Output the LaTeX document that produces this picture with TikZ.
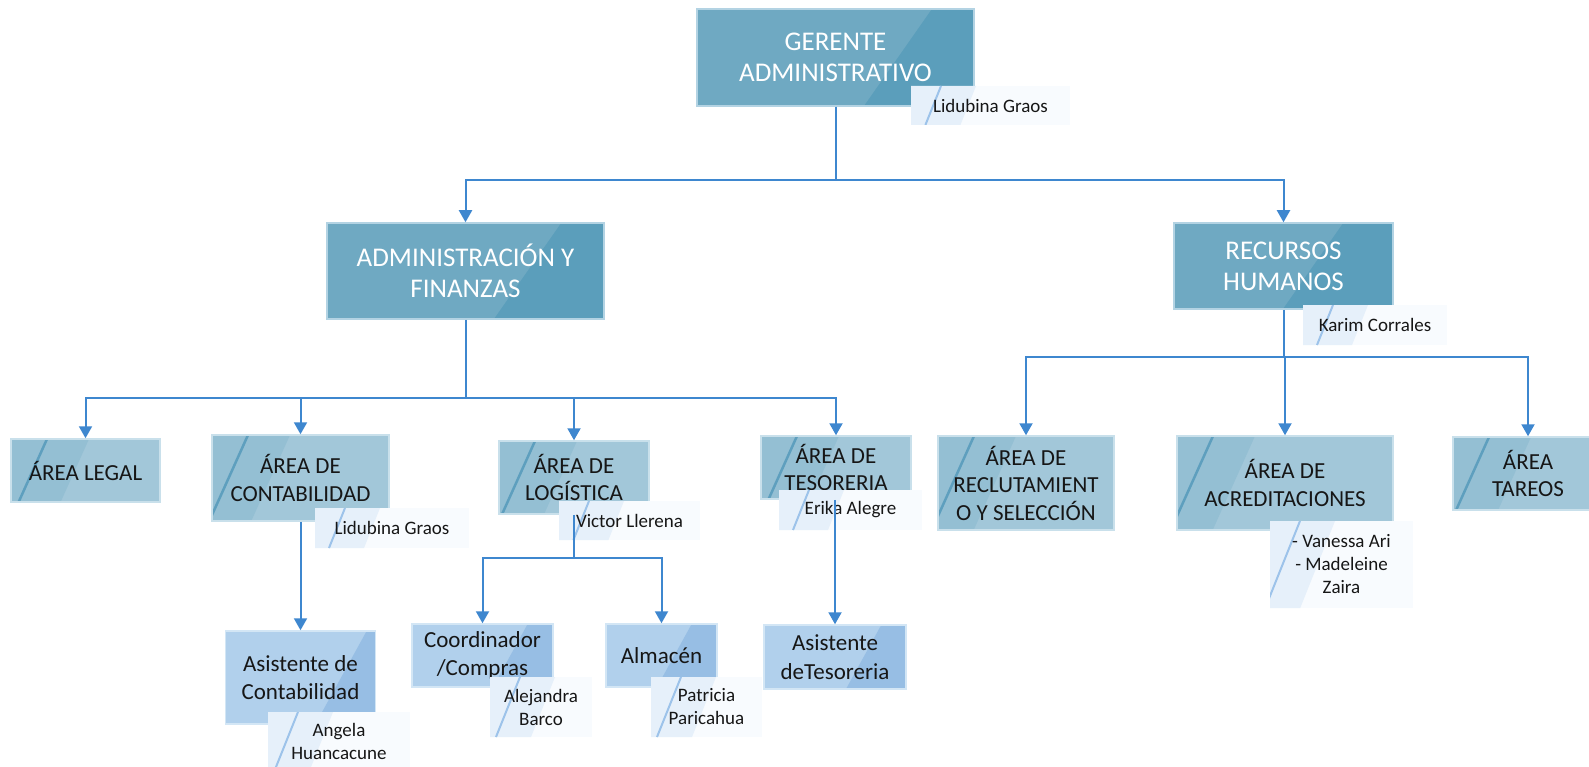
\documentclass[tikz,border=0pt]{standalone}
\usepackage{fontspec}
\setmainfont{Carlito}
\usetikzlibrary{arrows.meta,calc}
\definecolor{ca}{HTML}{6FA9C2}
\definecolor{cb}{HTML}{5B9EBB}
\definecolor{bda}{HTML}{B3D3E3}
\definecolor{ma}{HTML}{A2C7D9}
\definecolor{mb}{HTML}{94BFD3}
\definecolor{ms}{HTML}{5E9FBE}
\definecolor{bdm}{HTML}{C9E0EB}
\definecolor{sa}{HTML}{B1D0EC}
\definecolor{sb}{HTML}{97BEE4}
\definecolor{bds}{HTML}{D3E6F5}
\definecolor{la}{HTML}{E6F0FA}
\definecolor{lb}{HTML}{F8FBFE}
\definecolor{ls}{HTML}{9DC3EA}
\definecolor{conn}{HTML}{3E87CF}
\definecolor{txt}{HTML}{161616}
\tikzset{
  sz/.style 2 args={minimum width=#1pt, minimum height=#2pt},
  basebox/.style={inner sep=0pt, align=center, anchor=center},
  topbox/.style={basebox, draw=bda, line width=1.5pt, fill=ca, text=white,
    font=\fontsize{27}{31}\selectfont,
    path picture={\fill[cb] let \p1=(path picture bounding box.south west),
      \p2=(path picture bounding box.north east), \n1={\y2-\y1} in
      ({\x2-110pt},{\y1}) -- ({\x2-110pt+0.7*\n1},{\y2}) -- (\x2,\y2) -- (\x2,\y1) -- cycle;}},
  areabox/.style={basebox, draw=bdm, line width=1.5pt, fill=ma, text=txt,
    font=\fontsize{23}{27.5}\selectfont,
    path picture={\fill[mb] let \p1=(path picture bounding box.south west),
      \p2=(path picture bounding box.north east), \n1={\y2-\y1} in
      (\x1,\y1) -- ({\x1+78pt-0.45*\n1},{\y1}) -- ({\x1+78pt},{\y2}) -- (\x1,\y2) -- cycle;
      \draw[ms, line width=2.5pt] let \p1=(path picture bounding box.south west),
      \p2=(path picture bounding box.north east), \n1={\y2-\y1} in
      ({\x1+36pt-0.45*\n1},{\y1}) -- ({\x1+36pt},{\y2});}},
  subbox/.style={basebox, draw=bds, line width=1.5pt, fill=sa, text=txt,
    font=\fontsize{23}{28.5}\selectfont,
    path picture={\fill[sb] let \p1=(path picture bounding box.south west),
      \p2=(path picture bounding box.north east), \n1={\y2-\y1} in
      ({\x2-60pt},{\y1}) -- ({\x2-60pt+0.55*\n1},{\y2}) -- (\x2,\y2) -- (\x2,\y1) -- cycle;}},
  namebox/.style={basebox, fill=lb, text=txt,
    font=\fontsize{19}{23}\selectfont,
    path picture={\fill[la] let \p1=(path picture bounding box.south west),
      \p2=(path picture bounding box.north east), \n1={\y2-\y1} in
      (\x1,\y1) -- ({\x1+65pt-0.4*\n1},{\y1}) -- ({\x1+65pt},{\y2}) -- (\x1,\y2) -- cycle;
      \draw[ls, line width=2pt] let \p1=(path picture bounding box.south west),
      \p2=(path picture bounding box.north east), \n1={\y2-\y1} in
      ({\x1+30pt-0.4*\n1},{\y1}) -- ({\x1+30pt},{\y2});}},
  wire/.style={draw=conn, line width=2pt},
  arr/.style={wire, -{Triangle[width=13pt,length=12pt]}},
}
\begin{document}
\begin{tikzpicture}[x=1pt,y=-1pt]
\useasboundingbox (0,0) rectangle (1589,767);
\fill[white] (0,0) rectangle (1589,767);

% level 1
\node[topbox, sz={277}{97}] (ger) at (835.5,57.5) {GERENTE\\ADMINISTRATIVO};
\node[topbox, sz={277}{96}] (adm) at (465.5,271) {ADMINISTRACIÓN Y\\FINANZAS};
\node[topbox, sz={219}{86}] (rrhh) at (1283.5,266) {RECURSOS\\HUMANOS};

% level 2
\node[areabox, sz={149}{63}] (legal) at (85.5,470.5) {ÁREA LEGAL};
\node[areabox, sz={177}{86}] (cont) at (300.5,478) {ÁREA DE\\CONTABILIDAD};
\node[areabox, sz={150}{73}] (logi) at (574,477.5) {ÁREA DE\\LOGÍSTICA};
\node[areabox, sz={150}{63}] (teso) at (836,467.5) {ÁREA DE\\TESORERIA};
\node[areabox, sz={176}{94}] (recl) at (1026,483) {ÁREA DE\\RECLUTAMIENT\\O Y SELECCIÓN};
\node[areabox, sz={216}{94}] (acre) at (1285,483) {ÁREA DE\\ACREDITACIONES};
\node[areabox, sz={150}{73}] (tare) at (1528,473.5) {ÁREA\\TAREOS};

% level 3
\node[subbox, sz={150}{93}] (asis) at (300.5,677.5) {Asistente de\\Contabilidad};
\node[subbox, sz={141}{63}] (coor) at (482.5,655.5) {Coordinador\\/Compras};
\node[subbox, sz={111}{63}] (alma) at (661.5,655.5) {Almacén};
\node[subbox, sz={142}{64}] (ates) at (835,657) {Asistente\\deTesoreria};

% name labels
\node[namebox, sz={159}{39}] (n1) at (990.5,105.5) {Lidubina Graos};
\node[namebox, sz={144}{40}] (n2) at (1375,325) {Karim Corrales};
\node[namebox, sz={154}{40}] (n3) at (392,528) {Lidubina Graos};
\node[namebox, sz={141}{39}] (n4) at (629.5,520.5) {Victor Llerena};
\node[namebox, sz={143}{40}] (n5) at (850.5,510) {Erika Alegre};
\node[namebox, sz={143}{87}] (n6) at (1341.5,564.5) {- Vanessa Ari\\- Madeleine\\Zaira};
\node[namebox, sz={142}{59}] (n7) at (339,741.5) {Angela\\Huancacune};
\node[namebox, sz={102}{60}] (n8) at (541,707) {Alejandra\\Barco};
\node[namebox, sz={111}{60}] (n9) at (706.5,707) {Patricia\\Paricahua};

% connectors
\coordinate (j1) at (835.5,180);
\draw[wire] (ger.south) -- (j1);
\draw[arr] (j1) -| (adm.north);
\draw[arr] (j1) -| (rrhh.north);

\coordinate (j2) at (465.5,398);
\draw[wire] (adm.south) -- (j2);
\draw[arr] (j2) -| (legal.north);
\draw[arr] (j2) -| (cont.north);
\draw[arr] (j2) -| (logi.north);
\draw[arr] (j2) -| (teso.north);

\draw[arr] (cont.south) -- (asis.north);

\coordinate (j3) at (574,558);
\draw[wire] (logi.south) -- (j3);
\draw[arr] (j3) -| (coor.north);
\draw[arr] (j3) -| (alma.north);

\draw[arr] (teso.south -| ates.north) -- (ates.north);

\coordinate (j4) at (1283.5,357);
\draw[wire] (rrhh.south) -- (j4);
\draw[arr] (j4) -| (recl.north);
\draw[arr] (j4) -| (acre.north);
\draw[arr] (j4) -| (tare.north);
\end{tikzpicture}
\end{document}
